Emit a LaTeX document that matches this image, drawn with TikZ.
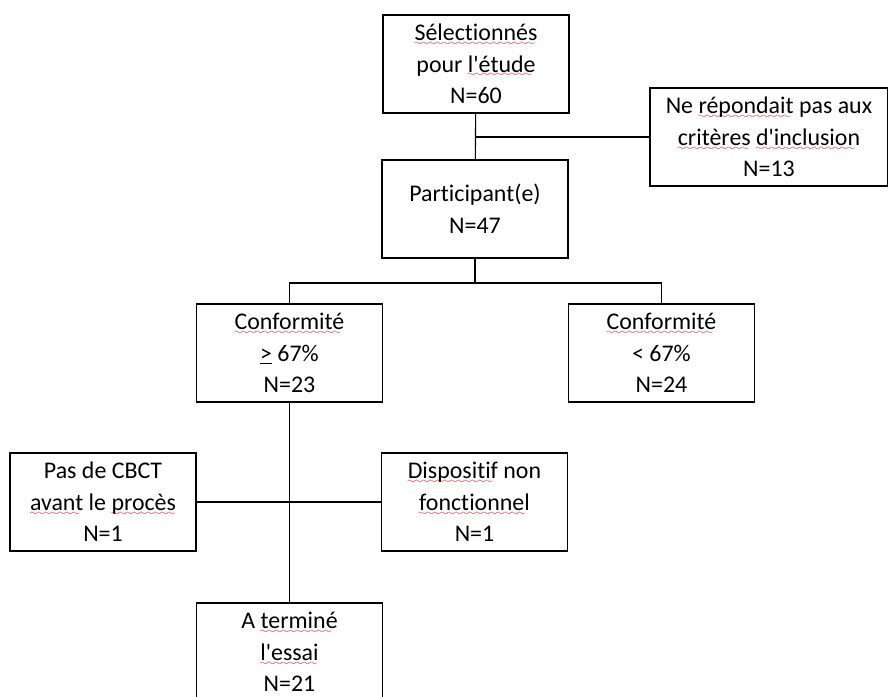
\documentclass[tikz,border=0pt]{standalone}
\usepackage{fontspec}
\setmainfont[Ligatures={NoCommon}]{Carlito}
\font\wavefont=lasy6
\newcommand\squig[1]{\setbox0\hbox{#1}%
  \rlap{\lower3.4pt\hbox to\wd0{\color{red!85!black}\leaders\hbox{\wavefont\char58}\hfil}}\box0\relax}
\newcommand\apos{\textquotesingle}

\begin{document}
\begin{tikzpicture}[
  x=0.025cm, y=-0.025cm,
  box/.style={rectangle, draw=black, line width=0.8pt, fill=white, align=center,
    minimum width=4.65cm, minimum height=2.45cm, inner sep=2pt,
    font=\fontsize{17}{22.4}\selectfont},
  link/.style={line width=0.8pt, draw=black}
]
  \useasboundingbox (0,0) rectangle (888,697);

  % Boites
  \node[box] (sel) at (476,64) {\squig{Sélectionnés}\\pour \squig{l\apos étude}\\N=60};
  \node[box, minimum width=5.95cm] (excl) at (769,137) {Ne \squig{répondait} pas aux\\\squig{critères} \squig{d\apos inclusion}\\N=13};
  \node[box] (part) at (475,209) {Participant(e)\\N=47};
  \node[box] (confhi) at (289.5,353) {\squig{Conformité}\\\underline{>} 67\%\\N=23};
  \node[box] (conflo) at (661.5,353) {\squig{Conformité}\\< 67\%\\N=24};
  \node[box] (cbct) at (103,502) {Pas de CBCT\\\squig{avant} le \squig{procès}\\N=1};
  \node[box] (disp) at (474.5,502) {\squig{Dispositif} non\\\squig{fonctionnel}\\N=1};
  \node[box] (fini) at (289.5,652) {A \squig{terminé}\\\squig{l\apos essai}\\N=21};

  % Liens
  \draw[link] (sel) -- (part);
  \coordinate (j1) at (sel.south |- excl.west);
  \draw[link] (j1) -- (excl.west);
  \coordinate (j2) at (475,283);
  \draw[link] (part.south) -- (j2) -| (confhi.north);
  \draw[link] (j2) -| (conflo.north);
  \draw[link] (confhi) -- (fini);
  \draw[link] (cbct) -- (disp);
\end{tikzpicture}
\end{document}
